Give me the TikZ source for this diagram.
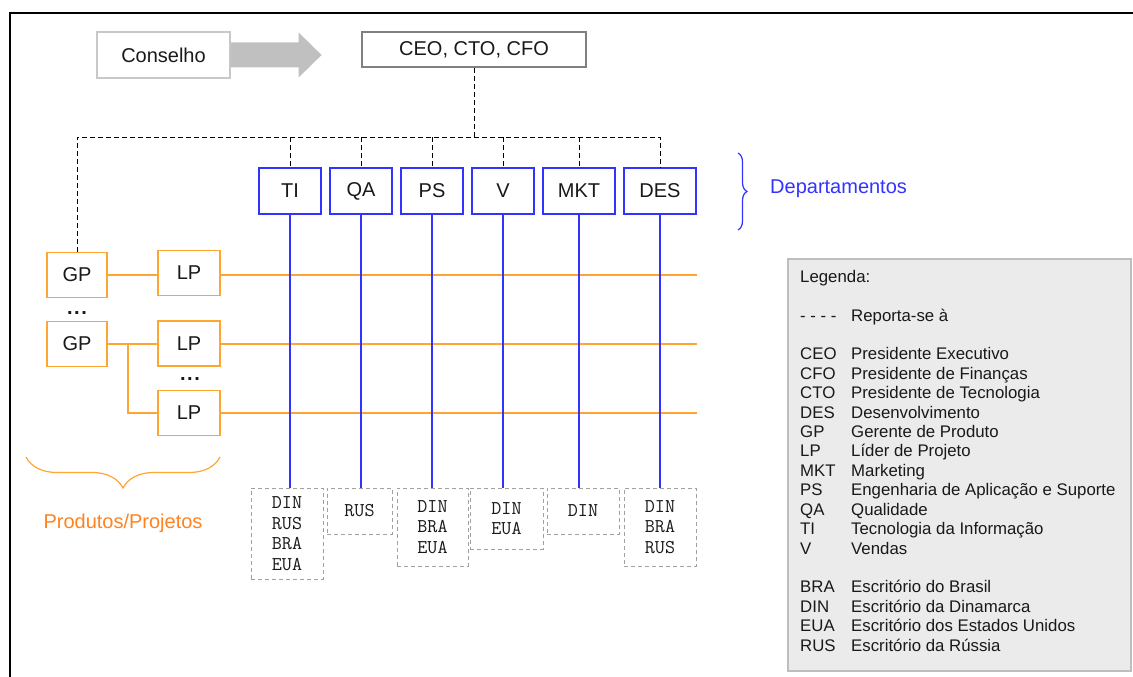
\documentclass[tikz,border=0pt]{standalone}
\usepackage{fontspec}
\setmainfont{Liberation Sans}
\usetikzlibrary{decorations.pathreplacing,calc}
\definecolor{dblue}{RGB}{51,51,255}
\definecolor{orng}{RGB}{255,165,50}
\definecolor{orngtxt}{RGB}{255,130,30}
\definecolor{lgfill}{RGB}{235,235,235}
\definecolor{lgedge}{RGB}{190,190,190}
\definecolor{offedge}{RGB}{160,160,160}
\definecolor{arrowgray}{RGB}{192,192,192}
\definecolor{consedge}{RGB}{200,200,200}
\definecolor{ceoedge}{RGB}{128,128,128}
\definecolor{txt}{RGB}{25,25,25}
\begin{document}
\begin{tikzpicture}[x=1pt,y=-1pt,
  every node/.style={inner sep=0pt, text=txt},
  big/.style={font=\fontsize{20}{24}\selectfont},
  deptbox/.style={draw=dblue, line width=1.3pt, fill=white, big, minimum height=46pt},
  prodbox/.style={draw=orng, line width=1.3pt, fill=white, big, minimum width=62pt, minimum height=45pt},
  officebox/.style={draw=offedge, line width=1pt, dash pattern=on 4pt off 3pt, align=center, font=\ttfamily\fontsize{19.5}{20.5}\selectfont},
  report/.style={draw=black, line width=1pt, dash pattern=on 5pt off 3pt},
  bluelink/.style={draw=dblue, line width=1.3pt},
  orangelink/.style={draw=orng, line width=1.3pt},
  dotsstyle/.style={font=\bfseries\fontsize{20}{24}\selectfont, anchor=base},
]
\useasboundingbox (0,0) rectangle (1133,677);
\draw[line width=2.5pt, line join=miter] (10,677) -- (10,13) -- (1133,13);

% top
\node[draw=consedge, line width=1.2pt, minimum width=133pt, minimum height=46pt, big] (cons) at (163.5,55) {Conselho};
\node[draw=ceoedge, line width=1.2pt, minimum width=224pt, minimum height=35pt, big] (ceo) at (474,49.5) {CEO, CTO, CFO};
\fill[arrowgray] ([yshift=12.5pt]cons.east) -- ++(68,0) -- ++(0,-10) -- ++(23,22.5) -- ++(-23,22.5) -- ++(0,-10) -- ++(-68,0) -- cycle;

% departments
\node[deptbox, minimum width=62pt] (TI) at (290,191) {TI};
\node[deptbox, minimum width=62pt] (QA) at (361,191) {QA};
\node[deptbox, minimum width=62pt] (PS) at (432,191) {PS};
\node[deptbox, minimum width=62pt] (V) at (503,191) {V};
\node[deptbox, minimum width=72pt] (MKT) at (579,191) {MKT};
\node[deptbox, minimum width=72pt] (DES) at (660,191) {DES};
\draw[dblue, line width=1.2pt, decorate, decoration={brace, amplitude=9pt}] (738,153) -- (738,230);
\node[big, text=dblue, anchor=west] (deptlabel) at (770,189) {Departamentos};

% products / projects
\node[prodbox, minimum width=60pt] (GP1) at (77,275) {GP};
\node[prodbox, minimum width=60pt] (GP2) at (77,344) {GP};
\node[prodbox] (LP1) at (189,273) {LP};
\node[prodbox] (LP2) at (189,343.5) {LP};
\node[prodbox] (LP3) at (189,413) {LP};
\node[dotsstyle] (dots1) at (77,314) {.\hspace{1.5pt}.\hspace{1.5pt}.};
\node[dotsstyle] (dots2) at (190,380) {.\hspace{1.5pt}.\hspace{1.5pt}.};
\coordinate (r1) at (697,275);
\coordinate (r2) at (697,344);
\coordinate (r3) at (697,413);
\coordinate (br) at (128,344);
\draw[orangelink] (GP1.east) -- (GP1.east -| LP1.west);
\draw[orangelink] (GP1.east -| LP1.east) -- (r1);
\draw[orangelink] (GP2.east) -- (GP2.east -| LP2.west);
\draw[orangelink] (GP2.east -| LP2.east) -- (r2);
\draw[orangelink] (br) |- (LP3.west);
\draw[orangelink] (LP3.east) -- (r3);
\draw[orng, line width=1.2pt, decorate, decoration={brace, amplitude=31pt}] (220,457) -- (26,457);
\node[big, text=orngtxt] (prodlabel) at (123,523) {Produtos/Projetos};

% offices
\node[officebox, minimum width=72pt, minimum height=91pt] (off1) at (287,533.5) {DIN\\RUS\\BRA\\EUA};
\node[officebox, minimum width=65pt, minimum height=46pt] (off2) at (359.5,511) {RUS};
\node[officebox, minimum width=71pt, minimum height=78pt] (off3) at (432.5,527) {DIN\\BRA\\EUA};
\node[officebox, minimum width=73pt, minimum height=61pt] (off4) at (506.5,518.5) {DIN\\EUA};
\node[officebox, minimum width=72pt, minimum height=46pt] (off5) at (583,511) {DIN};
\node[officebox, minimum width=72pt, minimum height=78pt] (off6) at (660,527) {DIN\\BRA\\RUS};
\draw[bluelink] (TI.south) -- (TI.south |- off1.north);
\draw[bluelink] (QA.south) -- (QA.south |- off2.north);
\draw[bluelink] (PS.south) -- (PS.south |- off3.north);
\draw[bluelink] (V.south) -- (V.south |- off4.north);
\draw[bluelink] (MKT.south) -- (MKT.south |- off5.north);
\draw[bluelink] (DES.south) -- (DES.south |- off6.north);

% reporting lines
\coordinate (hL) at (77,137);
\draw[report] (ceo.south) -- (ceo.south |- hL);
\draw[report] (GP1.north) -- (GP1.north |- hL) -- (DES.north |- hL) -- (DES.north);
\draw[report] (TI.north |- hL) -- (TI.north);
\draw[report] (QA.north |- hL) -- (QA.north);
\draw[report] (PS.north |- hL) -- (PS.north);
\draw[report] (V.north |- hL) -- (V.north);
\draw[report] (MKT.north |- hL) -- (MKT.north);

% legend
\node[draw=lgedge, fill=lgfill, line width=1.2pt, minimum width=343pt, minimum height=412pt] (legend) at (959.5,465) {};
\node[anchor=north west, font=\fontsize{16.8}{19.42}\selectfont] (legtext) at (800,268.4) {%
\begin{tabular}{@{}p{51pt}@{}l@{}}
\multicolumn{2}{@{}l@{}}{Legenda:}\\
\\
- - - - & Reporta-se à\\
\\
CEO & Presidente Executivo\\
CFO & Presidente de Finanças\\
CTO & Presidente de Tecnologia\\
DES & Desenvolvimento\\
GP & Gerente de Produto\\
LP & Líder de Projeto\\
MKT & Marketing\\
PS & Engenharia de Aplicação e Suporte\\
QA & Qualidade\\
TI & Tecnologia da Informação\\
V & Vendas\\
\\
BRA & Escritório do Brasil\\
DIN & Escritório da Dinamarca\\
EUA & Escritório dos Estados Unidos\\
RUS & Escritório da Rússia
\end{tabular}};
\end{tikzpicture}
\end{document}
